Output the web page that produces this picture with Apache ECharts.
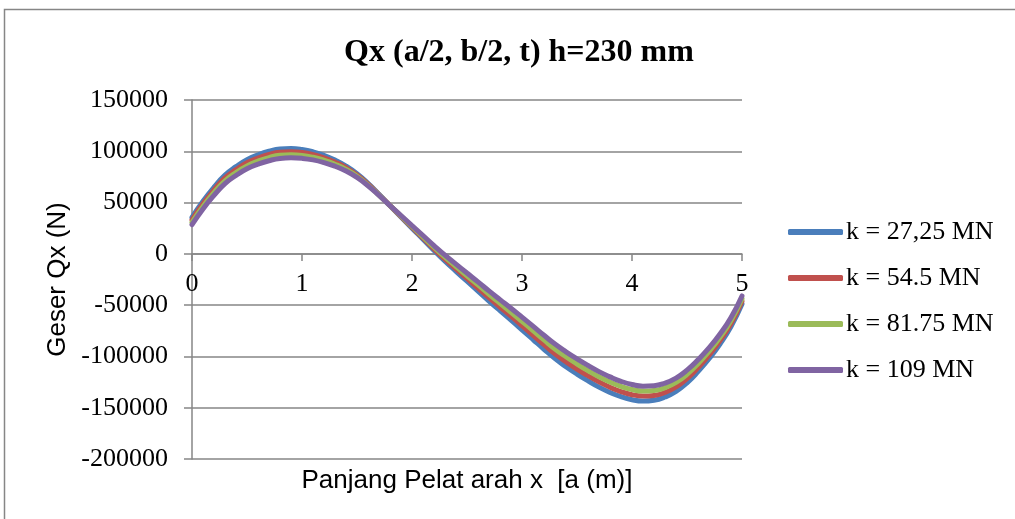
<!DOCTYPE html>
<html>
<head>
<meta charset="utf-8">
<script src="https://cdn.jsdelivr.net/npm/echarts@6/dist/echarts.min.js"></script>
<style>
  html, body { margin: 0; padding: 0; background: #fff; }
  #chart { width: 1015px; height: 519px; }
</style>
</head>
<body>
<div id="chart"></div>
<script>
// posisi x (a dalam m)
var xValues = [0, 0.1, 0.2, 0.3, 0.4, 0.5, 0.6, 0.7, 0.8, 0.9,
    1, 1.1, 1.2, 1.3, 1.4, 1.5, 1.6, 1.7, 1.8, 1.9,
    2, 2.1, 2.2, 2.3, 2.4, 2.5, 2.6, 2.7, 2.8, 2.9,
    3, 3.1, 3.2, 3.3, 3.4, 3.5, 3.6, 3.7, 3.8, 3.9,
    4, 4.1, 4.2, 4.3, 4.4, 4.5, 4.6, 4.7, 4.8, 4.9, 5];

// gaya geser Qx (N) per nilai k
var qxK1 = [35500, 51300, 65000, 76800, 85000, 91800, 96500, 100000, 102200, 102600,
    101700, 99500, 96000, 91400, 85600, 78100, 68700, 58000, 46900, 36000,
    25000, 14200, 3300, -7200, -17000, -26700, -36300, -46000, -55400, -64600,
    -74000, -83500, -93000, -102100, -110000, -117200, -123800, -129900, -135100, -139300,
    -142200, -143500, -142700, -139600, -134100, -125700, -114800, -102300, -87900, -70900, -49000];
var qxK2 = [33200, 48800, 62300, 74000, 82100, 88800, 93400, 96900, 99100, 99600,
    98800, 96800, 93700, 89400, 84000, 76900, 67900, 57700, 47000, 36500,
    25900, 15400, 4900, -5200, -14700, -24000, -33300, -42700, -51800, -60700,
    -69900, -79200, -88500, -97400, -105100, -112300, -118800, -124800, -130000, -134300,
    -137300, -138600, -138000, -135100, -129800, -121600, -110900, -98800, -84600, -68000, -46300];
var qxK3 = [30800, 46300, 59700, 71200, 79300, 85800, 90400, 93900, 96100, 96600,
    96000, 94200, 91300, 87400, 82400, 75700, 67100, 57300, 47000, 36900,
    26700, 16600, 6500, -3200, -12300, -21400, -30300, -39400, -48200, -56900,
    -65800, -74800, -83900, -92700, -100300, -107300, -113800, -119800, -125000, -129300,
    -132300, -133800, -133300, -130500, -125400, -117500, -107100, -95200, -81400, -65000, -43700];
var qxK4 = [28500, 43800, 57000, 68500, 76400, 82900, 87400, 90800, 93000, 93600,
    93100, 91600, 89000, 85400, 80800, 74500, 66400, 57000, 47100, 37400,
    27600, 17900, 8100, -1300, -10000, -18700, -27300, -36100, -44600, -53000,
    -61700, -70500, -79400, -88000, -95500, -102400, -108800, -114800, -119900, -124300,
    -127400, -129000, -128600, -126000, -121100, -113400, -103300, -91700, -78200, -62100, -41000];

var seriesNames = ['k = 27,25 MN', 'k = 54.5 MN', 'k = 81.75 MN', 'k = 109 MN'];
var seriesColors = ['#4a7ebb', '#c0504d', '#9bbb59', '#8064a2'];

var axisGray = '#868686';
var serif = 'Liberation Serif, Times New Roman, serif';
var sans = 'Liberation Sans, Arial, sans-serif';

function toPairs(values) {
    return values.map(function (v, i) { return [xValues[i], v]; });
}

var allValues = [qxK1, qxK2, qxK3, qxK4];
var series = allValues.map(function (values, i) {
    return {
        name: seriesNames[i],
        type: 'line',
        data: toPairs(values),
        smooth: true,
        showSymbol: false,
        symbol: 'none',
        lineStyle: { width: 5, color: seriesColors[i], cap: 'round' },
        itemStyle: { color: seriesColors[i] }
    };
});

var chart = echarts.init(document.getElementById('chart'), null, { renderer: 'canvas' });
chart.setOption({
    animation: false,
    backgroundColor: '#fff',
    graphic: [{
        type: 'rect',
        shape: { x: 4.5, y: 9.5, width: 1200, height: 700 },
        style: { fill: 'none', stroke: axisGray, lineWidth: 1.5 },
        silent: true
    }],
    title: {
        text: 'Qx (a/2, b/2, t) h=230 mm',
        left: 514,
        top: 32,
        textAlign: 'center',
        textStyle: { fontFamily: serif, fontWeight: 'bold', fontSize: 32, color: '#000' }
    },
    legend: {
        orient: 'vertical',
        left: 788,
        top: 219,
        padding: 0,
        itemWidth: 55,
        itemHeight: 6,
        itemGap: 20,
        icon: 'roundRect',
        textStyle: { fontFamily: serif, fontSize: 26, color: '#000', padding: [0, 0, 0, -2] },
        data: seriesNames
    },
    grid: { left: 192, top: 100, right: 273, bottom: 60, containLabel: false, outerBoundsMode: 'none' },
    xAxis: {
        type: 'value',
        min: 0,
        max: 5,
        interval: 1,
        // sumbu x memotong di Qx = 0
        offset: -205,
        name: 'Panjang Pelat arah x  [a (m)]',
        nameLocation: 'middle',
        nameGap: 214,
        nameTextStyle: { fontFamily: sans, fontSize: 26, color: '#000' },
        axisLine: { show: true, onZero: false, lineStyle: { color: axisGray, width: 1.5 } },
        axisTick: { show: true, length: 7, lineStyle: { color: axisGray, width: 1.5 } },
        axisLabel: { fontFamily: serif, fontSize: 26, color: '#000', margin: 17 },
        splitLine: { show: false }
    },
    yAxis: {
        type: 'value',
        min: -200000,
        max: 150000,
        interval: 50000,
        name: 'Geser Qx (N)',
        nameLocation: 'middle',
        nameGap: 120,
        nameTextStyle: { fontFamily: sans, fontSize: 26, color: '#000' },
        axisLine: { show: true, onZero: false, lineStyle: { color: axisGray, width: 1.5 } },
        axisTick: { show: true, length: 8, lineStyle: { color: axisGray, width: 1.5 } },
        axisLabel: {
            fontFamily: serif, fontSize: 26, color: '#000', margin: 24,
            showMinLabel: true, showMaxLabel: true,
            formatter: function (v) { return String(v); }
        },
        splitLine: { show: true, lineStyle: { color: axisGray, width: 1.5 } }
    },
    series: series
});
</script>
</body>
</html>
